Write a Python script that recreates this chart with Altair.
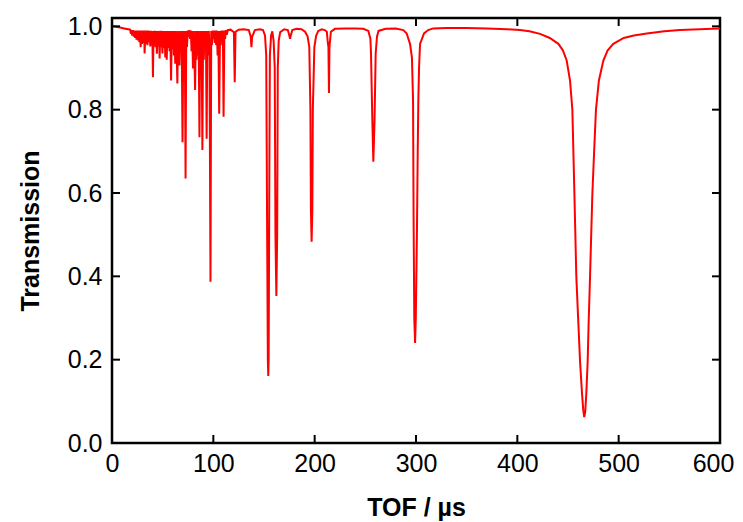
import altair as alt
import pandas as pd

# TOF (µs) and transmission
tof = [
    0, 4, 8, 12, 16, 18,
    18.6, 19.2, 20.0, 20.7, 21.4, 22.0, 22.8, 23.5, 24.2, 24.9, 25.6, 26.3, 27.0, 27.6,
    28.3, 29.0, 29.6, 30.3, 31.0, 31.7, 32.2, 32.9, 33.6, 34.3, 35.0, 35.7, 36.4, 37.1,
    37.8, 38.5, 39.2, 39.8, 40.4, 41.0, 41.7, 42.4, 43.0, 43.7, 44.3, 45.0, 45.6, 46.3,
    47.0, 47.7, 48.4, 49.1, 49.8, 50.5, 51.2, 51.9, 52.6, 53.3, 54.0, 54.7, 55.4, 56.1,
    56.8, 57.5, 58.3, 59.0, 59.7, 60.4, 61.1, 61.8, 62.4, 63.1, 63.8, 64.5, 65.2, 65.9,
    66.6, 67.3, 68.0, 68.7, 69.6, 70.4, 71.1, 71.8, 72.6, 73.3, 74.0, 74.7, 75.5, 76.3,
    77.0, 77.8, 78.5, 79.2, 79.9, 80.6, 81.3, 82.0, 82.7, 83.4, 84.1, 84.8, 85.5, 86.3,
    87.0, 87.7, 88.4, 89.2, 89.9, 90.6, 91.3, 92.0, 92.7, 93.4, 94.1, 94.8, 95.5, 96.2,
    97.2, 97.9, 98.6, 99.3, 100.0, 100.7, 101.4, 102.1, 102.8, 103.5, 104.2, 104.9,
    105.8, 106.6, 107.3, 108.0, 108.7, 109.4, 110.1, 110.9, 111.6, 112.4, 113.3, 114.3,
    117, 120.3, 121.1, 121.9, 125, 130, 135, 136.9, 137.6, 138.3, 141, 146, 149,
    151, 152.2, 153, 153.8, 154.2, 154.6, 155.2, 155.8, 157, 158.2, 159.5, 160.6, 161.3,
    162.2, 163, 163.6, 164.5, 166, 170, 173.5, 175, 175.7, 176.4, 178, 182, 187,
    190.5, 193, 194.7, 195.8, 196.3, 197, 197.7, 198.2, 199.7, 201.5, 203.6, 207, 210,
    212, 213, 213.6, 214.1, 214.6, 216, 220, 230, 240, 248, 253, 255, 255.6, 256.9,
    257.9, 259.1, 260.2, 261.5, 263, 270, 280, 287.5, 290.8, 294.1, 296, 297.1, 297.6,
    298.3, 299.1, 299.8, 300.9, 301.7, 302.3, 303, 304, 307.9, 312, 317, 330, 350, 370,
    390, 402.6, 412, 422.4, 432, 440.5, 445, 448.7, 452, 454.3, 456.3, 458.2, 460,
    461.9, 463.8, 465, 466, 467, 468.1, 469.4, 470.5, 471.7, 474, 475.8, 477.6, 480.5,
    484.9, 489, 494.7, 505, 515, 527.7, 545, 560.5, 580, 600,
]
transmission = [
    1.000, 0.999, 0.997, 0.995, 0.993, 0.992,
    0.982, 0.991, 0.978, 0.991, 0.975, 0.990, 0.972, 0.990, 0.968, 0.990, 0.966, 0.990, 0.962, 0.990,
    0.950, 0.990, 0.958, 0.990, 0.960, 0.990, 0.935, 0.990, 0.958, 0.990, 0.955, 0.990, 0.962, 0.989,
    0.952, 0.989, 0.955, 0.989, 0.878, 0.989, 0.955, 0.989, 0.950, 0.989, 0.934, 0.989, 0.952, 0.989,
    0.923, 0.989, 0.950, 0.989, 0.935, 0.989, 0.948, 0.989, 0.925, 0.989, 0.920, 0.989, 0.948, 0.989,
    0.940, 0.989, 0.870, 0.989, 0.945, 0.989, 0.930, 0.989, 0.910, 0.989, 0.945, 0.863, 0.989, 0.935,
    0.906, 0.989, 0.945, 0.989, 0.722, 0.989, 0.940, 0.989, 0.635, 0.989, 0.950, 0.990, 0.975, 0.991,
    0.970, 0.990, 0.940, 0.989, 0.899, 0.989, 0.930, 0.847, 0.989, 0.920, 0.989, 0.930, 0.989, 0.734,
    0.989, 0.925, 0.989, 0.703, 0.989, 0.920, 0.989, 0.940, 0.989, 0.730, 0.989, 0.930, 0.989, 0.950,
    0.387, 0.989, 0.955, 0.990, 0.970, 0.990, 0.960, 0.990, 0.955, 0.990, 0.930, 0.989,
    0.790, 0.989, 0.955, 0.990, 0.965, 0.990, 0.783, 0.990, 0.970, 0.991, 0.980, 0.991,
    0.992, 0.986, 0.866, 0.987, 0.992, 0.993, 0.991, 0.975, 0.950, 0.975, 0.991, 0.993, 0.991,
    0.978, 0.930, 0.550, 0.200, 0.161, 0.200, 0.600, 0.930, 0.978, 0.988, 0.965, 0.900, 0.500,
    0.353, 0.500, 0.900, 0.965, 0.986, 0.993, 0.991, 0.978, 0.970, 0.978, 0.991, 0.994, 0.993,
    0.987, 0.976, 0.950, 0.800, 0.560, 0.483, 0.560, 0.800, 0.950, 0.978, 0.989, 0.993, 0.991,
    0.987, 0.960, 0.950, 0.840, 0.950, 0.987, 0.994, 0.995, 0.995, 0.994, 0.989, 0.970, 0.934, 0.775,
    0.675, 0.775, 0.934, 0.975, 0.989, 0.994, 0.995, 0.991, 0.983, 0.958, 0.925, 0.820, 0.550,
    0.300, 0.240, 0.300, 0.500, 0.700, 0.820, 0.900, 0.958, 0.983, 0.991, 0.995, 0.996, 0.996, 0.995,
    0.993, 0.991, 0.988, 0.982, 0.972, 0.958, 0.942, 0.918, 0.870, 0.800, 0.600, 0.400, 0.300,
    0.195, 0.120, 0.080, 0.062, 0.075, 0.120, 0.195, 0.300, 0.395, 0.595, 0.700, 0.800, 0.870,
    0.918, 0.942, 0.958, 0.972, 0.978, 0.983, 0.988, 0.991, 0.993, 0.995,
]

x_ticks = [100, 200, 300, 400, 500]
y_ticks = [0.2, 0.4, 0.6, 0.8, 1.0]
x_labels = [0, 100, 200, 300, 400, 500, 600]
y_labels = [0.0, 0.2, 0.4, 0.6, 0.8, 1.0]

W, H = 608, 425
TICK = 8
FONT = "Liberation Sans"

df = pd.DataFrame({"tof": tof, "T": transmission})
xt = pd.DataFrame({"tof": x_ticks})
yt = pd.DataFrame({"T": y_ticks})

xscale = alt.Scale(domain=[0, 600], nice=False, zero=False)
yscale = alt.Scale(domain=[0, 1.02], nice=False, zero=False)

xaxis = alt.Axis(values=x_labels, tickSize=0, domain=False, grid=False,
                 labelFontSize=25, labelFont=FONT, labelColor="black",
                 labelPadding=8, labelFlush=False, labelOverlap=False,
                 labelOffset={"condition": {"test": "datum.value === 600", "value": -7}, "value": 0},
                 title="TOF / µs", titleFont=FONT, titleFontSize=25,
                 titleFontWeight="bold", titleColor="black", titlePadding=19)
yaxis = alt.Axis(values=y_labels, format=".1f", tickSize=0, domain=False, grid=False,
                 labelFontSize=25, labelFont=FONT, labelColor="black",
                 labelPadding=10, labelFlush=False, labelOverlap=False,
                 title="Transmission", titleFont=FONT, titleFontSize=25,
                 titleFontWeight="bold", titleColor="black", titlePadding=24)

X = alt.X("tof:Q", scale=xscale, axis=xaxis)
Y = alt.Y("T:Q", scale=yscale, axis=yaxis)

line = alt.Chart(df).mark_line(color="#FF0000", strokeWidth=2, clip=True).encode(x=X, y=Y)

bottom_ticks = alt.Chart(xt).mark_rule(color="black", strokeWidth=2).encode(
    x=X, y=alt.value(H), y2=alt.value(H - TICK))
top_ticks = alt.Chart(xt).mark_rule(color="black", strokeWidth=2).encode(
    x=X, y=alt.value(0), y2=alt.value(TICK))
left_ticks = alt.Chart(yt).mark_rule(color="black", strokeWidth=2).encode(
    y=Y, x=alt.value(0), x2=alt.value(TICK))
right_ticks = alt.Chart(yt).mark_rule(color="black", strokeWidth=2).encode(
    y=Y, x=alt.value(W), x2=alt.value(W - TICK))

chart = alt.layer(line, bottom_ticks, top_ticks, left_ticks, right_ticks).properties(
    width=W, height=H,
    background="white",
    autosize=alt.AutoSizeParams(type="none"),
    padding={"left": 104, "top": 10, "right": 15, "bottom": 78},
).configure_view(stroke="black", strokeWidth=2.5)

chart.save("out.html", embed_options={"renderer": "svg", "actions": False})
